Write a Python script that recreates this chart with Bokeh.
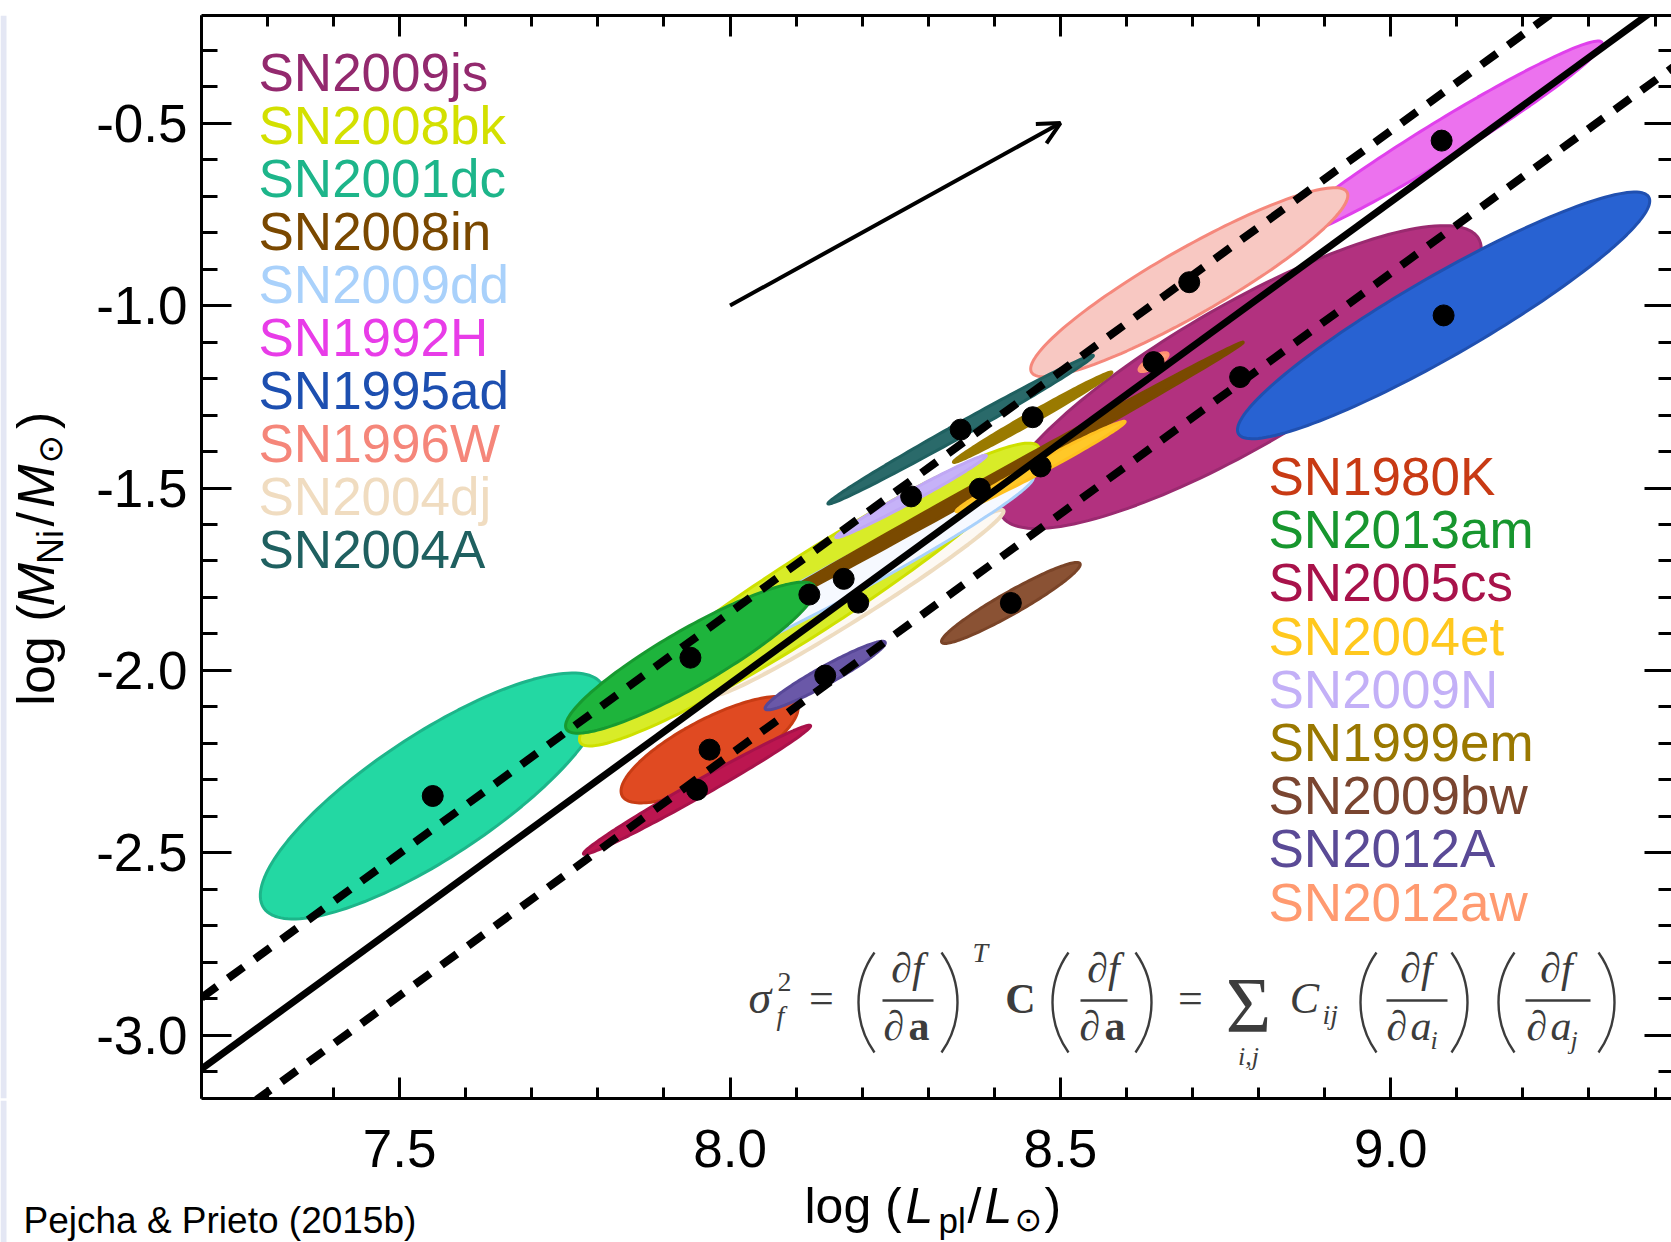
import numpy as np
from bokeh.plotting import figure
from bokeh.layouts import column, row
from bokeh.models import (Range1d, LinearAxis, FixedTicker, Label, Arrow, OpenHead,
                          ColumnDataSource)
from bokeh.core.properties import value
from bokeh.embed import file_html
from bokeh.resources import INLINE

# ------------------------------------------------------------------ data
sn_names = ["SN2009js", "SN2008bk", "SN2001dc", "SN2008in", "SN2009dd",
            "SN1992H", "SN1995ad", "SN1996W", "SN2004dj", "SN2004A",
            "SN1980K", "SN2013am", "SN2005cs", "SN2004et", "SN2009N",
            "SN1999em", "SN2009bw", "SN2012A", "SN2012aw"]
# best-fit log(L_pl/Lsun) and log(M_Ni/Msun)
log_L = [8.772, 8.120, 7.550, 8.378, 8.172,
         9.077, 9.080, 8.695, 8.194, 8.349,
         7.969, 7.940, 7.950, 8.470, 8.274,
         8.458, 8.425, 8.144, 8.641]
log_M = [-1.196, -1.792, -2.344, -1.502, -1.749,
         -0.548, -1.027, -0.936, -1.814, -1.340,
         -2.217, -1.965, -2.327, -1.441, -1.523,
         -1.306, -1.815, -2.014, -1.155]
# half extents of the error ellipses and their correlation
err_L = [0.365, 0.348, 0.261, 0.399, 0.287,
         0.243, 0.312, 0.240, 0.220, 0.201,
         0.134, 0.189, 0.172, 0.128, 0.114,
         0.120, 0.105, 0.091, 0.022]
err_M = [0.415, 0.415, 0.337, 0.402, 0.282,
         0.273, 0.338, 0.259, 0.254, 0.204,
         0.146, 0.207, 0.177, 0.124, 0.113,
         0.124, 0.111, 0.094, 0.026]
corr = [0.845, 0.955, 0.81, 0.9988, 0.980,
        0.975, 0.928, 0.917, 0.984, 0.9945,
        0.777, 0.903, 0.9895, 0.989, 0.9885,
        0.992, 0.950, 0.954, 0.80]

label_colors = ["#93296E", "#D3E000", "#1DB58A", "#7A4800", "#A9D1FB",
                "#E83CE8", "#1D4FB0", "#F5867A", "#F0DCC0", "#1F6060",
                "#C83A14", "#17962E", "#A8124A", "#FFC81E", "#C3B0F7",
                "#9A7800", "#7A4530", "#5A4A96", "#FF9A70"]
fill_colors = ["#B2317F", "#D8EC28", "#23D8A3", "#7A4A00", "#F6F9FF",
               "#EC72EE", "#2862D2", "#F8C8C2", "#FDF9F3", "#2A6A6A",
               "#E04A22", "#1EB43C", "#BC1650", "#FFC828", "#C6B2F8",
               "#9A7A00", "#8A5234", "#6A58A8", "#FFA078"]
edge_colors = ["#9A2A70", "#CEE000", "#1DB58A", "#7A4A00", "#A9D1FB",
               "#E040EC", "#2050B0", "#F5887C", "#EEDCC0", "#1F6060",
               "#C83C14", "#179A30", "#A8124A", "#FFC020", "#C0A8F5",
               "#9A7A00", "#7A4428", "#584898", "#FF9070"]

left_legend = sn_names[:10]
right_legend = sn_names[10:]

draw_order = ["SN2009js", "SN1995ad", "SN1992H", "SN1996W", "SN2004A",
              "SN2001dc", "SN2004dj", "SN2008bk", "SN2009dd", "SN2008in",
              "SN2013am", "SN2009N", "SN1999em", "SN2004et", "SN1980K",
              "SN2005cs", "SN2012A", "SN2009bw", "SN2012aw"]

# fitted relation (end points) and its scatter
fit_L = [7.2, 9.45]
fit_M = [-3.092, -0.122]
fit_scatter = 0.195

# arrow
arrow_from = (8.0, -1.0)
arrow_to = (8.5, -0.5)

x_ticks = [7.5, 8.0, 8.5, 9.0]
x_tick_labels = ["7.5", "8.0", "8.5", "9.0"]
y_ticks = [-3.0, -2.5, -2.0, -1.5, -1.0, -0.5]
y_tick_labels = ["-3.0", "-2.5", "-2.0", "-1.5", "-1.0", "-0.5"]

# ------------------------------------------------------------------ layout
W, H = 1671, 1242
LEFT_W = 80            # strip holding the y title
MAIN_H = 1100          # height of the main plot
FL, FT, FR, FB = 201, 15, 1671, 1098       # frame edges (page pixels)
X0, PX_X = 7.2, 660.7                        # x value at left edge, px per unit
Y0, PX_Y = -0.2051, 364.9                    # y value at top edge, px per unit
X1 = X0 + (FR - FL) / PX_X
Y1 = Y0 - (FB - FT) / PX_Y


def dx(px):
    return X0 + (px - FL) / PX_X


def dy(py):
    return Y0 - (py - FT) / PX_Y


def bare_fig(w, h, xr, yr):
    f = figure(width=w, height=h, x_range=xr, y_range=yr, output_backend="svg",
               toolbar_location=None, x_axis_location=None, y_axis_location=None,
               min_border=0)
    f.outline_line_color = None
    f.grid.visible = False
    f.background_fill_color = "white"
    f.border_fill_color = "white"
    return f


p = figure(width=W - LEFT_W, height=MAIN_H, x_range=Range1d(X0, X1),
           y_range=Range1d(Y1, Y0), output_backend="svg", toolbar_location=None,
           x_axis_location=None, y_axis_location=None,
           min_border_left=FL - LEFT_W, min_border_top=FT,
           min_border_bottom=MAIN_H - FB, min_border_right=0)
p.outline_line_color = None
p.background_fill_color = "white"
p.border_fill_color = "white"
p.grid.visible = False

TICK_FONT = "Liberation Sans"


def make_axis(ticks, labels, minor, tick_in, minor_in, show_labels, standoff, line=True):
    ax = LinearAxis(ticker=FixedTicker(ticks=ticks, minor_ticks=minor))
    ax.axis_line_width = 3
    ax.axis_line_color = "black" if line else None
    ax.major_tick_in = tick_in
    ax.major_tick_out = 0
    ax.minor_tick_in = minor_in
    ax.minor_tick_out = 0
    ax.major_tick_line_width = 3
    ax.minor_tick_line_width = 3
    if show_labels:
        ax.major_label_overrides = {t: s for t, s in zip(ticks, labels)}
        ax.major_label_text_font = TICK_FONT
        ax.major_label_text_font_size = "53px"
        ax.major_label_text_color = "black"
        ax.major_label_standoff = standoff
    else:
        ax.major_label_overrides = {t: "" for t in ticks}
        ax.major_label_text_font_size = "0px"
        ax.major_label_standoff = 0
    return ax


x_minor = [round(7.2 + 0.1 * i, 1) for i in range(23)]
y_minor = [round(-3.1 + 0.1 * i, 1) for i in range(30)]

p.add_layout(make_axis(x_ticks, x_tick_labels, x_minor, 21, 11, False, 0), "below")
p.add_layout(make_axis(x_ticks, x_tick_labels, x_minor, 21, 11, False, 0), "above")
p.add_layout(make_axis(y_ticks, y_tick_labels, y_minor, 30, 16, True, 14), "left")
p.add_layout(make_axis(y_ticks, y_tick_labels, y_minor, 27, 13, False, 0, line=False), "right")

# ------------------------------------------------------------------ ellipses
def ellipse_xy(cx, cy, sx, sy, r, n=160):
    t = np.linspace(0, 2 * np.pi, n)
    xs = cx + sx * np.cos(t)
    ys = cy + sy * (r * np.cos(t) + np.sqrt(1 - r * r) * np.sin(t))
    return list(xs), list(ys)


idx = {n: i for i, n in enumerate(sn_names)}
exs, eys, efill, eline, ewid = [], [], [], [], []
for n in draw_order:
    i = idx[n]
    xs, ys = ellipse_xy(log_L[i], log_M[i], err_L[i], err_M[i], corr[i])
    exs.append(xs)
    eys.append(ys)
    efill.append(fill_colors[i])
    eline.append(edge_colors[i])
    ewid.append(4 if n == "SN2004dj" else 3)
p.patches(xs="xs", ys="ys", fill_color="fill", line_color="line", line_width="w",
          source=ColumnDataSource(dict(xs=exs, ys=eys, fill=efill, line=eline, w=ewid)))

# ------------------------------------------------------------------ relation
p.line(fit_L, fit_M, line_color="black", line_width=7)
p.line(fit_L, [m + fit_scatter for m in fit_M], line_color="black", line_width=8,
       line_dash="19 14")
p.line(fit_L, [m - fit_scatter for m in fit_M], line_color="black", line_width=8,
       line_dash="19 14")

p.scatter(log_L, log_M, size=21, color="black")

p.add_layout(Arrow(end=OpenHead(size=22, line_width=4, line_color="black"),
                   x_start=arrow_from[0], y_start=arrow_from[1],
                   x_end=arrow_to[0], y_end=arrow_to[1],
                   line_width=4, line_color="black"))

# ------------------------------------------------------------------ legends
# (text anchors are the visual centre of each line)
LEG_STEP = 53.0
leg_src_l = ColumnDataSource(dict(
    x=[dx(258)] * len(left_legend),
    y=[dy(72 + k * LEG_STEP) for k in range(len(left_legend))],
    t=left_legend, c=[label_colors[idx[n]] for n in left_legend]))
leg_src_r = ColumnDataSource(dict(
    x=[dx(1268)] * len(right_legend),
    y=[dy(476 + k * 53.2) for k in range(len(right_legend))],
    t=right_legend, c=[label_colors[idx[n]] for n in right_legend]))
for src in (leg_src_l, leg_src_r):
    p.text(x="x", y="y", text="t", text_color="c", source=src,
           text_font=value("Liberation Sans"), text_font_size="53px",
           text_baseline="alphabetic", text_align="left")


def lab(fig, text, x, y, size, font="Liberation Sans", style="normal", align="left",
        color="black", angle=0.0):
    fig.add_layout(Label(x=x, y=y, text=text, text_font=font,
                         text_font_size=f"{size}px", text_font_style=style,
                         text_align=align, text_baseline="alphabetic",
                         text_color=color, angle=angle))


def plab(text, px, py, size, **kw):
    lab(p, text, dx(px), dy(py), size, **kw)


# ------------------------------------------------------------------ formula
FC = "#3c3c3c"
SERIF = "Liberation Serif"
plab("\u03c3", 748, 997, 46, font=SERIF, style="italic", color=FC)
plab("2", 777, 981, 28, font=SERIF, color=FC)
plab("f", 776, 1015, 28, font=SERIF, style="italic", color=FC)
plab("=", 821, 998, 44, font=SERIF, align="center", color=FC)
plab("T", 972, 952, 28, font=SERIF, style="italic", color=FC)
plab("C", 1020, 998, 42, font=SERIF, style="bold", align="center", color=FC)
plab("=", 1190, 998, 44, font=SERIF, align="center", color=FC)
plab("\u03a3", 1248, 1004, 78, font=SERIF, align="center", color=FC)
plab("i,j", 1248, 1056, 26, font=SERIF, style="italic", align="center", color=FC)
plab("C", 1304, 998, 44, font=SERIF, style="italic", align="center", color=FC)
plab("ij", 1322, 1014, 28, font=SERIF, style="italic", color=FC)

fracs = [(907, 882, 933, None), (1103, 1080, 1127, None),
         (1416, 1386, 1447, "i"), (1556, 1525, 1590, "j")]
bar_x0, bar_x1, bar_y = [], [], []
for cx, b0, b1, sub in fracs:
    plab("\u2202f", cx, 967, 42, font=SERIF, style="italic", align="center", color=FC)
    if sub is None:
        plab("\u2202", cx - 24, 1025, 42, font=SERIF, style="italic", color=FC)
        plab("a", cx + 1, 1025, 42, font=SERIF, style="bold", color=FC)
    else:
        plab("\u2202", cx - 30, 1025, 42, font=SERIF, style="italic", color=FC)
        plab("a", cx - 6, 1025, 42, font=SERIF, style="italic", color=FC)
        plab(sub, cx + 14, 1040, 26, font=SERIF, style="italic", color=FC)
    bar_x0.append(dx(b0))
    bar_x1.append(dx(b1))
    bar_y.append(dy(1000))
p.segment(x0=bar_x0, y0=bar_y, x1=bar_x1, y1=bar_y, line_color=FC, line_width=2.4)

PR, PTH = 86, 0.62
open_px = [858, 1052, 1360, 1498]
close_px = [957, 1151, 1467, 1614]
p.arc(x=[dx(v + PR) for v in open_px], y=[dy(1002)] * 4, radius=PR, radius_units="screen",
      start_angle=np.pi - PTH, end_angle=np.pi + PTH, line_color=FC, line_width=2.4)
p.arc(x=[dx(v - PR) for v in close_px], y=[dy(1002)] * 4, radius=PR, radius_units="screen",
      start_angle=-PTH, end_angle=PTH, line_color=FC, line_width=2.4)

# ------------------------------------------------------------------ left strip: y title
left = bare_fig(LEFT_W, MAIN_H, Range1d(0, LEFT_W), Range1d(MAIN_H, 0))
left.quad(left=0, right=6, top=0, bottom=MAIN_H, fill_color="#e4e7f4", line_color=None)
R90 = np.pi / 2
lab(left, "log (", 35, 701, 52, angle=R90)
lab(left, "M", 35, 600, 52, style="italic", angle=R90)
lab(left, "Ni", 50, 557, 36, angle=R90)
lab(left, "/", 35, 519, 52, angle=R90)
lab(left, "M", 35, 500, 52, style="italic", angle=R90)
lab(left, "\u2299", 49, 455, 34, font="DejaVu Sans", angle=R90)
lab(left, ")", 35, 420, 52, angle=R90)

# ------------------------------------------------------------------ bottom strip
bottom = bare_fig(W, H - MAIN_H, Range1d(dx(0), dx(W)), Range1d(H, MAIN_H))
bottom.quad(left=dx(0), right=dx(6), top=MAIN_H, bottom=H, fill_color="#e4e7f4",
            line_color=None)
bottom.text(x=x_ticks, y=[1148] * len(x_ticks), text=x_tick_labels,
            text_font=value(TICK_FONT), text_font_size="53px", text_color="black",
            text_align="center", text_baseline="alphabetic")
lab(bottom, "log (", dx(804), 1205, 50)
lab(bottom, "L", dx(905), 1205, 50, style="italic")
lab(bottom, "pl", dx(938), 1220, 35)
lab(bottom, "/", dx(967), 1205, 50)
lab(bottom, "L", dx(984), 1205, 50, style="italic")
lab(bottom, "\u2299", dx(1014), 1219, 33, font="DejaVu Sans")
lab(bottom, ")", dx(1044), 1205, 50)
lab(bottom, "Pejcha & Prieto (2015b)", dx(23), 1220, 37)

layout = column(row(left, p, spacing=0), bottom, spacing=0)
open("out.html", "w").write(file_html(layout, INLINE))
